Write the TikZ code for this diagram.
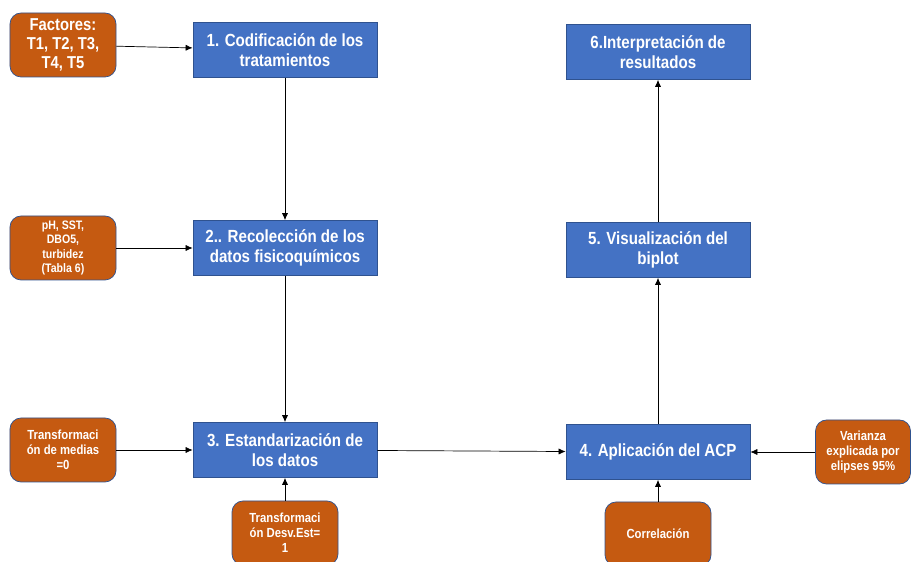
\documentclass[tikz,border=0pt]{standalone}
\usepackage{fontspec}
\setmainfont[FakeStretch=0.86]{Liberation Sans}
\usetikzlibrary{arrows.meta}
\definecolor{azul}{HTML}{4472C4}
\definecolor{naranja}{HTML}{C55A11}
\definecolor{borde}{HTML}{2F528F}
\tikzset{paso/.style={shape=rectangle, draw=borde, fill=azul, text=white, align=center,
    minimum width=3.68cm, minimum height=1.1cm, inner sep=1pt,
    font=\bfseries\fontsize{10}{11}\selectfont}}
\tikzset{insumo/.style={shape=rectangle, rounded corners=0.22cm, draw=borde, fill=naranja, text=white,
    align=center, minimum width=2.12cm, minimum height=1.28cm, inner sep=1pt,
    font=\bfseries\fontsize{7.5}{8.6}\selectfont}}
\tikzset{every edge/.style={draw=black, thin, -{Latex[length=4pt,width=3.5pt]}}}

\begin{document}
\begin{tikzpicture}
  \useasboundingbox (0,0) rectangle (18.24,-11.24);
  \clip (0,0) rectangle (18.24,-11.24);

  \node[paso] (P1) at (5.7,-1.0) {1. Codificación de los\\tratamientos};
  \node[paso] (P2) [node distance = 3.96cm, below of = P1] {2.. Recolección de los\\datos fisicoquímicos};
  \node[paso] (P3) [node distance = 4.04cm, below of = P2] {3. Estandarización de\\los datos};
  \node[paso] (P4) [node distance = 7.46cm, right of = P3, yshift=-0.04cm] {4. Aplicación del ACP};
  \node[paso] (P5) [node distance = 4.04cm, above of = P4] {5. Visualización del\\biplot};
  \node[paso] (P6) [node distance = 3.96cm, above of = P5] {6.Interpretación de\\resultados};

  \node[insumo, font=\bfseries\fontsize{9.8}{10.6}\selectfont] (factores) at (1.26,-0.9) {Factores:\\T1, T2, T3,\\T4, T5};
  \node[insumo, font=\bfseries\fontsize{7}{8}\selectfont] (fisico) [node distance = 4.44cm, left of = P2] {pH, SST,\\DBO5,\\turbidez\\(Tabla 6)};
  \node[insumo] (medias) [node distance = 4.44cm, left of = P3] {Transformaci\\ón de medias\\=0};
  \node[insumo] (desv) [node distance = 1.66cm, below of = P3] {Transformaci\\ón Desv.Est=\\1};
  \node[insumo] (correl) [node distance = 1.64cm, below of = P4] {Correlación};
  \node[insumo, minimum width=1.9cm] (varianza) [node distance = 4.1cm, right of = P4] {Varianza\\explicada por\\elipses 95\%};

  \path (factores) edge (P1);
  \path (fisico) edge (P2);
  \path (medias) edge (P3);
  \path (desv) edge (P3);

  \path (P1) edge (P2);
  \path (P2) edge (P3);
  \path (P3) edge (P4);

  \path (correl) edge (P4);
  \path (varianza) edge (P4);

  \path (P4) edge (P5);
  \path (P5) edge (P6);
\end{tikzpicture}
\end{document}
